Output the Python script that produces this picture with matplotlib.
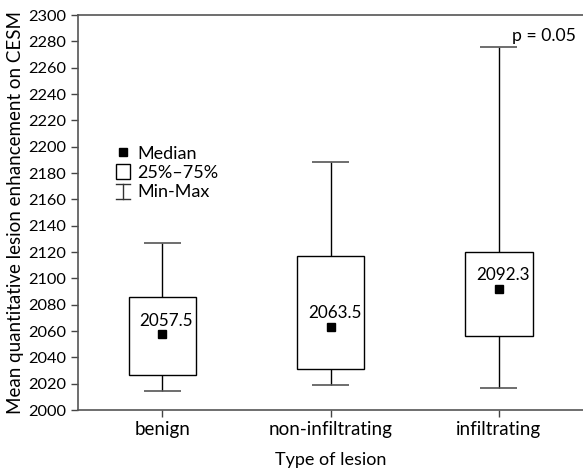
import matplotlib.pyplot as plt
from matplotlib.lines import Line2D
from matplotlib.patches import Patch
from matplotlib.legend_handler import HandlerBase

plt.rcParams['font.family'] = ['Lato', 'DejaVu Sans']

# data
categories = ['benign', 'non-infiltrating', 'infiltrating']
medians = [2057.5, 2063.5, 2092.3]
q1 = [2026.6, 2030.9, 2056.0]
q3 = [2085.6, 2117.0, 2119.8]
mins = [2014.2, 2019.0, 2017.2]
maxs = [2126.9, 2188.7, 2275.8]
yticks = list(range(2000, 2301, 20))


class MinMaxProxy:
    pass


class IBeamHandler(HandlerBase):
    def create_artists(self, legend, orig_handle, xdescent, ydescent,
                       width, height, fontsize, trans):
        cx = width / 2 - xdescent
        y0 = -ydescent - 0.05 * height
        y1 = -ydescent + 0.95 * height
        w = 0.5 * width
        kw = dict(color='#333333', lw=1, transform=trans)
        return [
            Line2D([cx, cx], [y0, y1], **kw),
            Line2D([cx - w, cx + w], [y0, y0], **kw),
            Line2D([cx - w, cx + w], [y1, y1], **kw),
        ]


fig = plt.figure(figsize=(5.83, 4.72), dpi=100)
ax = fig.add_axes([0.134, 0.131, 0.866, 0.837])

x = list(range(len(categories)))
box_w = 0.40
cap_w = 0.22

# whiskers
ax.vlines(x, mins, q1, color='black', lw=1)
ax.vlines(x, q3, maxs, color='black', lw=1)
ax.hlines(mins, [i - cap_w / 2 for i in x], [i + cap_w / 2 for i in x], color='#555555', lw=1.2)
ax.hlines(maxs, [i - cap_w / 2 for i in x], [i + cap_w / 2 for i in x], color='#555555', lw=1.2)

# boxes
heights = [b - a for a, b in zip(q1, q3)]
ax.bar(x, heights, bottom=q1, width=box_w, facecolor='white', edgecolor='black', lw=1, zorder=2)

# medians
ax.plot(x, medians, ls='none', marker='s', ms=5.5, color='black', zorder=3)
for xi, m in zip(x, medians):
    ax.annotate(f'{m}', (xi, m), xytext=(3, 4), textcoords='offset points',
                ha='center', va='bottom', fontsize=12.3, zorder=4)

ax.text(2.46, 2284, 'p = 0.05', ha='right', va='center', fontsize=12.7)

ax.set_xlim(-0.5, 2.5)
ax.set_ylim(2000, 2300)
ax.set_yticks(yticks)
ax.set_xticks(x)
ax.set_xticklabels(categories, fontsize=13.5)
ax.tick_params(axis='y', labelsize=11.8)
ax.tick_params(length=5, width=1, color='#444444')
ax.tick_params(axis='x', pad=3)
for s in ['left', 'bottom', 'top']:
    ax.spines[s].set_color('#555555')
    ax.spines[s].set_linewidth(1.2)
ax.spines['right'].set_visible(False)

ax.set_ylabel('Mean quantitative lesion enhancement on CESM', fontsize=13.5, labelpad=3)
ax.set_xlabel('Type of lesion', fontsize=13, labelpad=10)

handles = [
    Line2D([], [], ls='none', marker='s', ms=5.5, color='black'),
    Patch(facecolor='white', edgecolor='black', lw=1),
    MinMaxProxy(),
]
ax.legend(handles, ['Median', '25%\u201375%', 'Min-Max'],
          handler_map={MinMaxProxy: IBeamHandler()},
          loc='upper left', bbox_to_anchor=(0.075, 0.67), frameon=False,
          fontsize=13, handlelength=0.75, handleheight=0.9, handletextpad=0.45,
          labelspacing=0.12, borderaxespad=0, borderpad=0)
fig.savefig('out.png', dpi=100)
